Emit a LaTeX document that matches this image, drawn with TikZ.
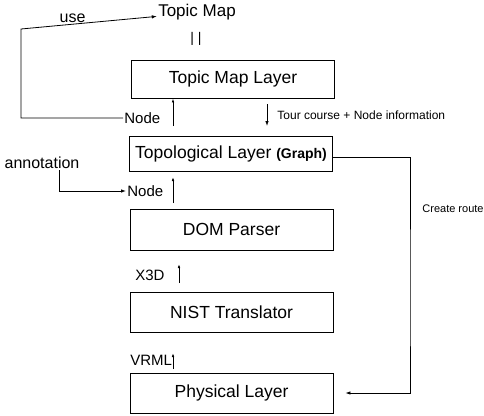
\documentclass[tikz,border=0pt]{standalone}
\usepackage{fontspec}
\setmainfont{Liberation Sans}
\usetikzlibrary{positioning, calc, arrows.meta}

\tikzset{
  layer/.style={draw, line width=0.9pt, minimum width=203pt, minimum height=40pt,
    inner sep=0pt, font=\fontsize{17.5}{20}\selectfont},
  lbl/.style={inner sep=1pt, font=\fontsize{17}{20}\selectfont},
  tag/.style={inner sep=1pt, font=\fontsize{15}{18}\selectfont},
  note/.style={inner sep=1pt, font=\fontsize{12}{14}\selectfont},
  arr/.style={-{Latex[length=5pt,width=3.5pt]}},
  uparr/.style={-{Latex[length=4pt,width=2.6pt]}, line width=0.9pt}
}

\begin{document}
\begin{tikzpicture}[x=1pt, y=-1pt, line width=0.8pt]
    \useasboundingbox (0,0) rectangle (484,415);

    % --- Layer boxes ---
    \node[layer, minimum height=38pt] (tml) at (233,79) {Topic Map Layer\hspace{6pt}};
    \node[layer, minimum height=35pt] (topo) at (231,153.5)
        {Topological Layer {\fontsize{14}{16}\bfseries (Graph)}};
    \node[layer, minimum height=41pt] (dom) at (231.5,229.5) {DOM Parser};
    \node[layer] (nist) at (231.5,312) {NIST Translator\hspace{4pt}};
    \node[layer] (phys) at (231.5,393) {Physical Layer\hspace{8pt}};

    % --- Topic Map on top ---
    \node[lbl] (tm) at (197,12) {Topic Map};
    \node[lbl, font=\fontsize{14}{16}\selectfont] (eq) at (196,39) {| |};

    % --- Node between Topic Map Layer and Topological Layer ---
    \node[tag, anchor=west] (n1) at (123,118) {Node};
    \coordinate (a1) at (173,126);
    \draw[uparr] (a1) -- (a1 |- tml.south);
    % use loop back to Topic Map
    \coordinate (uc) at (21,29);
    \draw[arr] (n1.west) -| (uc)
        -- node[pos=0.38, above, tag, font=\fontsize{16}{18}\selectfont] (use) {use} (tm.base west);

    % --- Tour course ---
    \coordinate (t1) at (267,104);
    \coordinate (t2) at (267,126);
    \draw[arr] (t1) -- node[note, right=9pt] (tour) {Tour course + Node information} (t2);

    % --- annotation into Node ---
    \node[tag, font=\fontsize{16}{18}\selectfont] (ann) at (42,163) {annotation};
    \node[tag, anchor=west] (n2) at (126,191) {Node};
    \draw[arr] ([xshift=17pt]ann.south) |- (n2.west);
    \coordinate (a2) at (173,203);
    \draw[uparr] (a2) -- ++(0,-26);

    % --- X3D and VRML ---
    \node[tag, anchor=west] (x3d) at (134,275) {X3D};
    \coordinate (a3) at (179,283);
    \draw[uparr] (a3) -- ++(0,-19);
    \node[tag, anchor=west] (vrml) at (129,360) {VRML};
    \coordinate (a4) at (173,369);
    \draw[uparr] (a4) -- ++(0,-16);

    % --- Create route ---
    \coordinate (rc) at (410,300);
    \draw[arr] ([yshift=-4pt]topo.east) -| (rc) |- ([xshift=12pt]phys.east);
    \node[note, font=\fontsize{11}{13}\selectfont] (cr) at (453,209) {Create route};

\end{tikzpicture}
\end{document}
